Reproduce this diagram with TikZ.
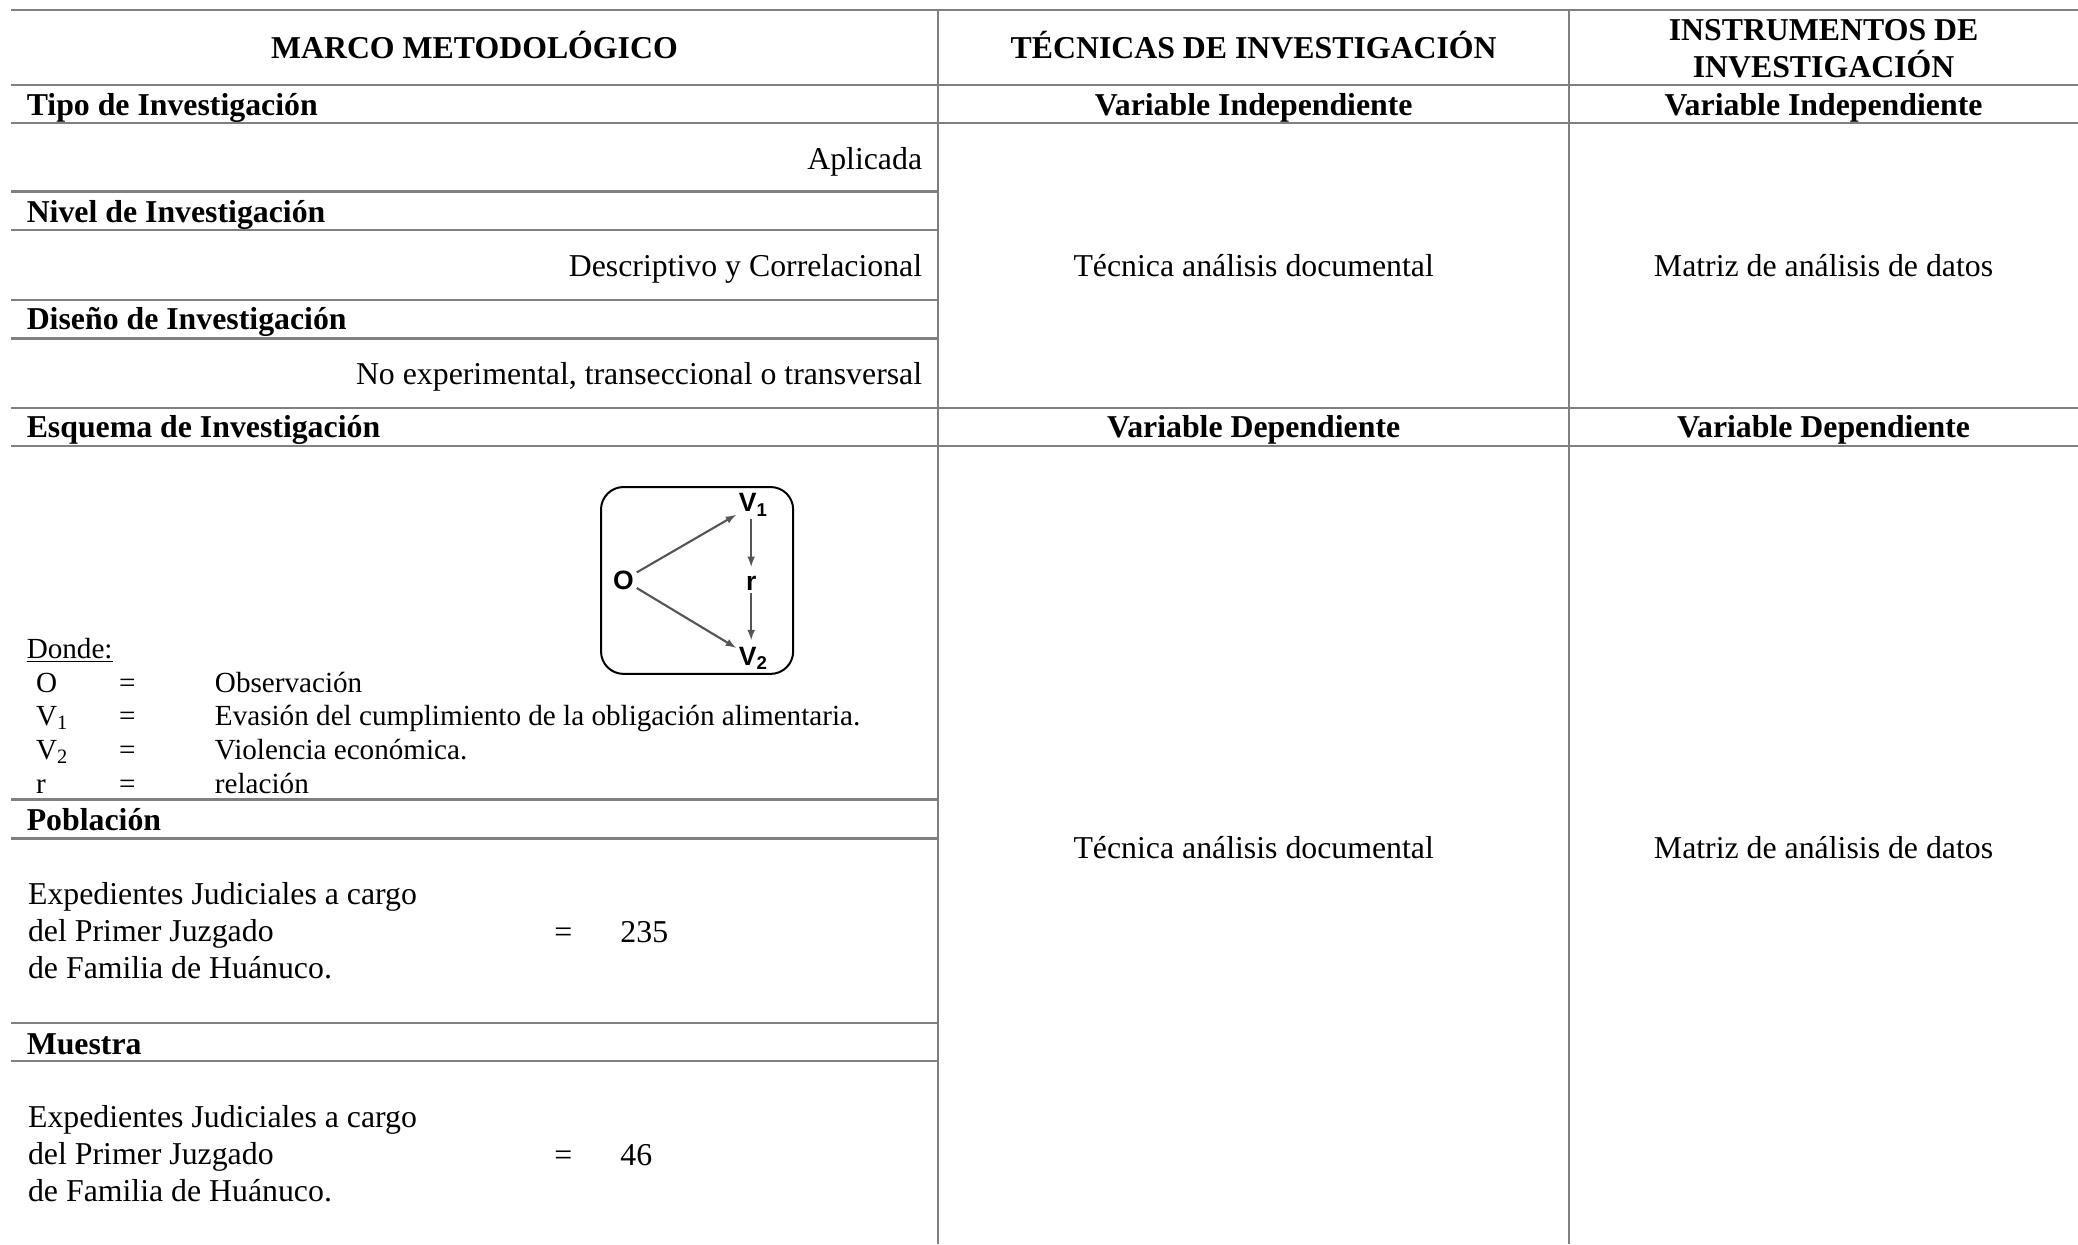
\documentclass[tikz,border=0pt]{standalone}
\usepackage{fontspec}
\setmainfont{Liberation Serif}
\newfontfamily\diagsans{Liberation Sans}
\usepackage{xcolor}
\usetikzlibrary{positioning, arrows}
\definecolor{rulegray}{HTML}{808080}
\definecolor{arrgray}{HTML}{555555}
\tikzset{
  rule/.style={draw=rulegray, line width=1.8pt},
  hd/.style={font=\fontsize{24}{28}\selectfont\bfseries, inner sep=0pt},
  tx/.style={font=\fontsize{24}{28}\selectfont, inner sep=0pt},
  sm/.style={font=\fontsize{22}{25}\selectfont, inner sep=0pt},
  dg/.style={font=\diagsans\bfseries\fontsize{20}{22}\selectfont, inner sep=2pt},
  arr/.style={-latex, draw=arrgray, line width=1.6pt},
}

\begin{document}
\begin{tikzpicture}[-, x=1pt, y=-1pt]
\useasboundingbox (0,0) rectangle (1568,939);

% rules of the table
\draw[rule] (8,7.5) -- (1568,7.5);
\draw[rule] (8,64) -- (1568,64);
\draw[rule] (8,92.6) -- (1568,92.6);
\draw[rule] (8,144.6) -- (708,144.6);
\draw[rule] (8,173.6) -- (708,173.6);
\draw[rule] (8,226.4) -- (708,226.4);
\draw[rule] (8,255.3) -- (708,255.3);
\draw[rule] (8,307.8) -- (1568,307.8);
\draw[rule] (8,336.5) -- (1568,336.5);
\draw[rule] (8,603.2) -- (708,603.2);
\draw[rule] (8,632.6) -- (708,632.6);
\draw[rule] (8,771.7) -- (708,771.7);
\draw[rule] (8,800.4) -- (708,800.4);
\draw[rule] (708,7.5) -- (708,939);
\draw[rule] (1184,7.5) -- (1184,939);

% headers
\node[hd, anchor=base] (h0) at (358,44.5) {MARCO METODOLÓGICO};
\node[hd, anchor=base] (h1) at (946,44.5) {TÉCNICAS DE INVESTIGACIÓN};
\node[hd, align=center] (h2) at (1376,37) {INSTRUMENTOS DE\\INVESTIGACIÓN};

\node[hd, anchor=base west] (s0) at (20,87) {Tipo de Investigación};
\node[hd, anchor=base] (s1) at (946,87) {Variable Independiente};
\node[hd, anchor=base] (s2) at (1376,87) {Variable Independiente};
\node[tx, anchor=base east] (a0) at (696,128) {Aplicada};
\node[hd, anchor=base west] (s3) at (20,168) {Nivel de Investigación};
\node[tx, anchor=base east] (a1) at (696,209) {Descriptivo y Correlacional};
\node[hd, anchor=base west] (s4) at (20,249) {Diseño de Investigación};
\node[tx, anchor=base east] (a2) at (696,290.3) {No experimental, transeccional o transversal};
\node[tx, anchor=base] (t0) at (946,209) {Técnica análisis documental};
\node[tx, anchor=base] (m0) at (1376,209) {Matriz de análisis de datos};

\node[hd, anchor=base west] (s5) at (20,330) {Esquema de Investigación};
\node[hd, anchor=base] (s6) at (946,330) {Variable Dependiente};
\node[hd, anchor=base] (s7) at (1376,330) {Variable Dependiente};
\node[tx, anchor=base] (t1) at (946,648) {Técnica análisis documental};
\node[tx, anchor=base] (m1) at (1376,648) {Matriz de análisis de datos};

% esquema
\node[draw, rounded corners=17pt, line width=1.5pt, minimum width=145pt, minimum height=141pt] (box) at (526,438) {};
\node[dg] (o) at (470.5,437.7) {O};
\node[dg] (v1) at (568.3,381) {V\textsubscript{1}};
\node[dg] (r) at (566.8,440.2) {r};
\node[dg] (v2) at (568.3,496.6) {V\textsubscript{2}};
\draw[arr] (o) -- (v1);
\draw[arr] (o) -- (v2);
\draw[arr, shorten >=5pt] (r |- v1.south) -- (r.north);
\draw[arr, shorten >=3pt] (r.south) -- (r |- v2.north);

% donde
\node[sm, anchor=base west] (d0) at (20,497) {\underline{Donde:}};
\node[sm, anchor=base west] (d1) at (27,522.5) {O};
\node[sm, anchor=base west] (d2) at (27,547.5) {V\textsubscript{1}};
\node[sm, anchor=base west] (d3) at (27,573) {V\textsubscript{2}};
\node[sm, anchor=base west] (d4) at (27,598.5) {r};
\node[sm, anchor=base] (e1) at (96,522.5) {=};
\node[sm, anchor=base] (e2) at (96,547.5) {=};
\node[sm, anchor=base] (e3) at (96,573) {=};
\node[sm, anchor=base] (e4) at (96,598.5) {=};
\node[sm, anchor=base west] (g1) at (162,522.5) {Observación};
\node[sm, anchor=base west] (g2) at (162,547.5) {Evasión del cumplimiento de la obligación alimentaria.};
\node[sm, anchor=base west] (g3) at (162,573) {Violencia económica.};
\node[sm, anchor=base west] (g4) at (162,598.5) {relación};

% poblacion y muestra
\node[hd, anchor=base west] (s8) at (20,627) {Población};
\node[tx, align=left, anchor=west] (p0) at (21,702) {Expedientes Judiciales a cargo\\del Primer Juzgado\\de Familia de Huánuco.};
\node[tx, anchor=base] (p1) at (425,711) {=};
\node[tx, anchor=base west] (p2) at (468,711) {235};
\node[hd, anchor=base west] (s9) at (20,795.5) {Muestra};
\node[tx, align=left, anchor=west] (q0) at (21,870.5) {Expedientes Judiciales a cargo\\del Primer Juzgado\\de Familia de Huánuco.};
\node[tx, anchor=base] (q1) at (425,879.5) {=};
\node[tx, anchor=base west] (q2) at (468,879.5) {46};
\end{tikzpicture}
\end{document}
